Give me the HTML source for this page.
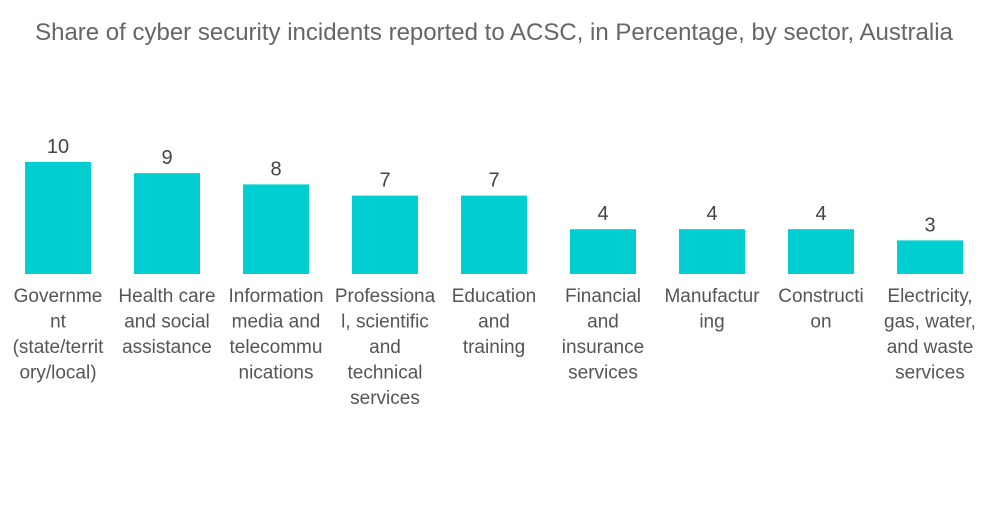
<!DOCTYPE html>
<html><head><meta charset="utf-8">
<style>
html,body{margin:0;padding:0;background:#fff;}
body{width:1000px;height:504px;overflow:hidden;font-family:"Liberation Sans",sans-serif;}
</style></head>
<body>
<svg id="chart" width="1000" height="504" xmlns="http://www.w3.org/2000/svg">
<text x="494" y="40" text-anchor="middle" font-size="24" fill="#666" font-family="Liberation Sans, sans-serif">Share of cyber security incidents reported to ACSC, in Percentage, by sector, Australia</text>
<g id="bars"></g>
</svg>
<script>
const categories = [
  "Governme|nt|(state/territ|ory/local)",
  "Health care|and social|assistance",
  "Information|media and|telecommu|nications",
  "Professiona|l, scientific|and|technical|services",
  "Education|and|training",
  "Financial|and|insurance|services",
  "Manufactur|ing",
  "Constructi|on",
  "Electricity,|gas, water,|and waste|services"
];
const values = [10, 9, 8, 7, 7, 4, 4, 4, 3];

const baseY = 274, unit = 11.2, barW = 66, x0 = 58, step = 109;
const xScale = i => x0 + i * step;
const yScale = v => baseY - v * unit;
const g = document.getElementById('bars');
const NS = "http://www.w3.org/2000/svg";
values.forEach((v, i) => {
  const cx = xScale(i);
  const r = document.createElementNS(NS, 'rect');
  
  
  r.setAttribute('x', cx - barW / 2);
  r.setAttribute('y', yScale(v));
  r.setAttribute('width', barW);
  r.setAttribute('height', baseY - yScale(v));
  r.setAttribute('fill', '#00CED1');
  g.appendChild(r);
  const t = document.createElementNS(NS, 'text');
  
  
  t.setAttribute('x', cx);
  t.setAttribute('y', yScale(v) - 9);
  t.setAttribute('text-anchor', 'middle');
  t.setAttribute('font-size', '20');
  t.setAttribute('fill', '#444');
  t.textContent = v;
  g.appendChild(t);
  const lt = document.createElementNS(NS, 'text');
  
  
  lt.setAttribute('text-anchor', 'middle');
  lt.setAttribute('font-size', '19');
  lt.setAttribute('fill', '#555');
  categories[i].split('|').forEach((line, j) => {
    const ts = document.createElementNS(NS, 'tspan');
    ts.setAttribute('x', cx);
    ts.setAttribute('y', 302 + j * 25.5);
    ts.textContent = line;
    lt.appendChild(ts);
  });
  g.appendChild(lt);
});
</script>
</body></html>
